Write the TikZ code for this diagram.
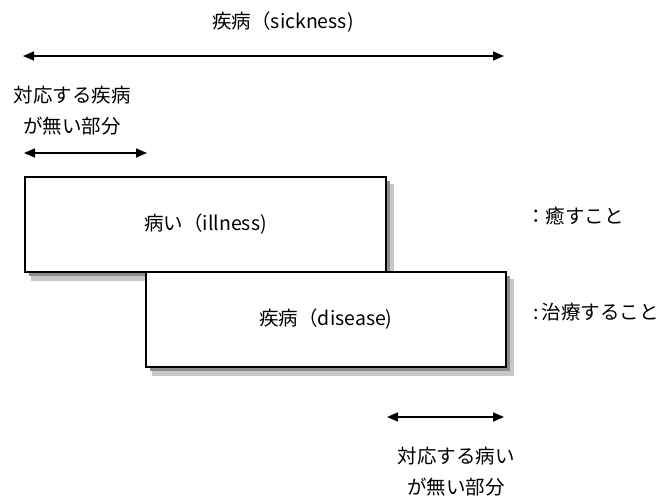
\documentclass[tikz,border=0pt]{standalone}
\usepackage{fontspec}
\setmainfont{Noto Sans CJK JP}
\usetikzlibrary{arrows.meta}
\begin{document}
\begin{tikzpicture}[x=1pt,y=-1pt,
  lbl/.style={font=\fontsize{19.5}{31}\selectfont, inner sep=0pt, align=center},
  box/.style={draw=black, line width=1.4pt, fill=white, inner sep=0pt},
  shadowbox/.style={fill=black!22, draw=none, inner sep=0pt},
  shadowcore/.style={fill=black!45, draw=none, inner sep=0pt},
  dbl/.style={{Triangle[length=11pt,width=9pt]}-{Triangle[length=11pt,width=9pt]}, line width=1.5pt}]
\useasboundingbox (0,0) rectangle (661,499);
% shadows, drawn first so that the boxes cover them
\node[shadowbox, minimum width=363pt, minimum height=97pt] (illsh) at (212,232) {};
\node[shadowcore, minimum width=361pt, minimum height=95pt] (illsc) at (209,228.5) {};
\node[shadowbox, minimum width=362pt, minimum height=97pt] (dissh) at (332.5,327) {};
\node[shadowcore, minimum width=360pt, minimum height=95pt] (dissc) at (329.5,323.5) {};
% top arrow
\node[lbl] (title) at (283,22) {疾病（sickness)};
\coordinate (s1) at (23,56);
\coordinate (s2) at (504,56);
\draw[dbl] (s1) -- (s2);
% left note
\node[lbl] (leftnote) at (72,111) {対応する疾病\\が無い部分};
\coordinate (l1) at (24,153);
\coordinate (l2) at (147,153);
\draw[dbl] (l1) -- (l2);
% boxes
\node[box, minimum width=361pt, minimum height=95pt] (ill) at (205.5,224.5) {};
\node[lbl] at (ill.center) {病い（illness)};
\node[box, minimum width=360pt, minimum height=95pt] (dis) at (326,319.5) {};
\node[lbl] at (dis.center) {疾病（disease)};
% right labels
\node[lbl, anchor=west] (heal) at (526,216) {：癒すこと};
\node[lbl, anchor=east] (treat) at (659,312) {:\hspace{3pt}治療すること};
% bottom arrow
\coordinate (b1) at (387,417);
\coordinate (b2) at (504,417);
\draw[dbl] (b1) -- (b2);
\node[lbl] (bottomnote) at (456,472) {対応する病い\\が無い部分};
\end{tikzpicture}
\end{document}
